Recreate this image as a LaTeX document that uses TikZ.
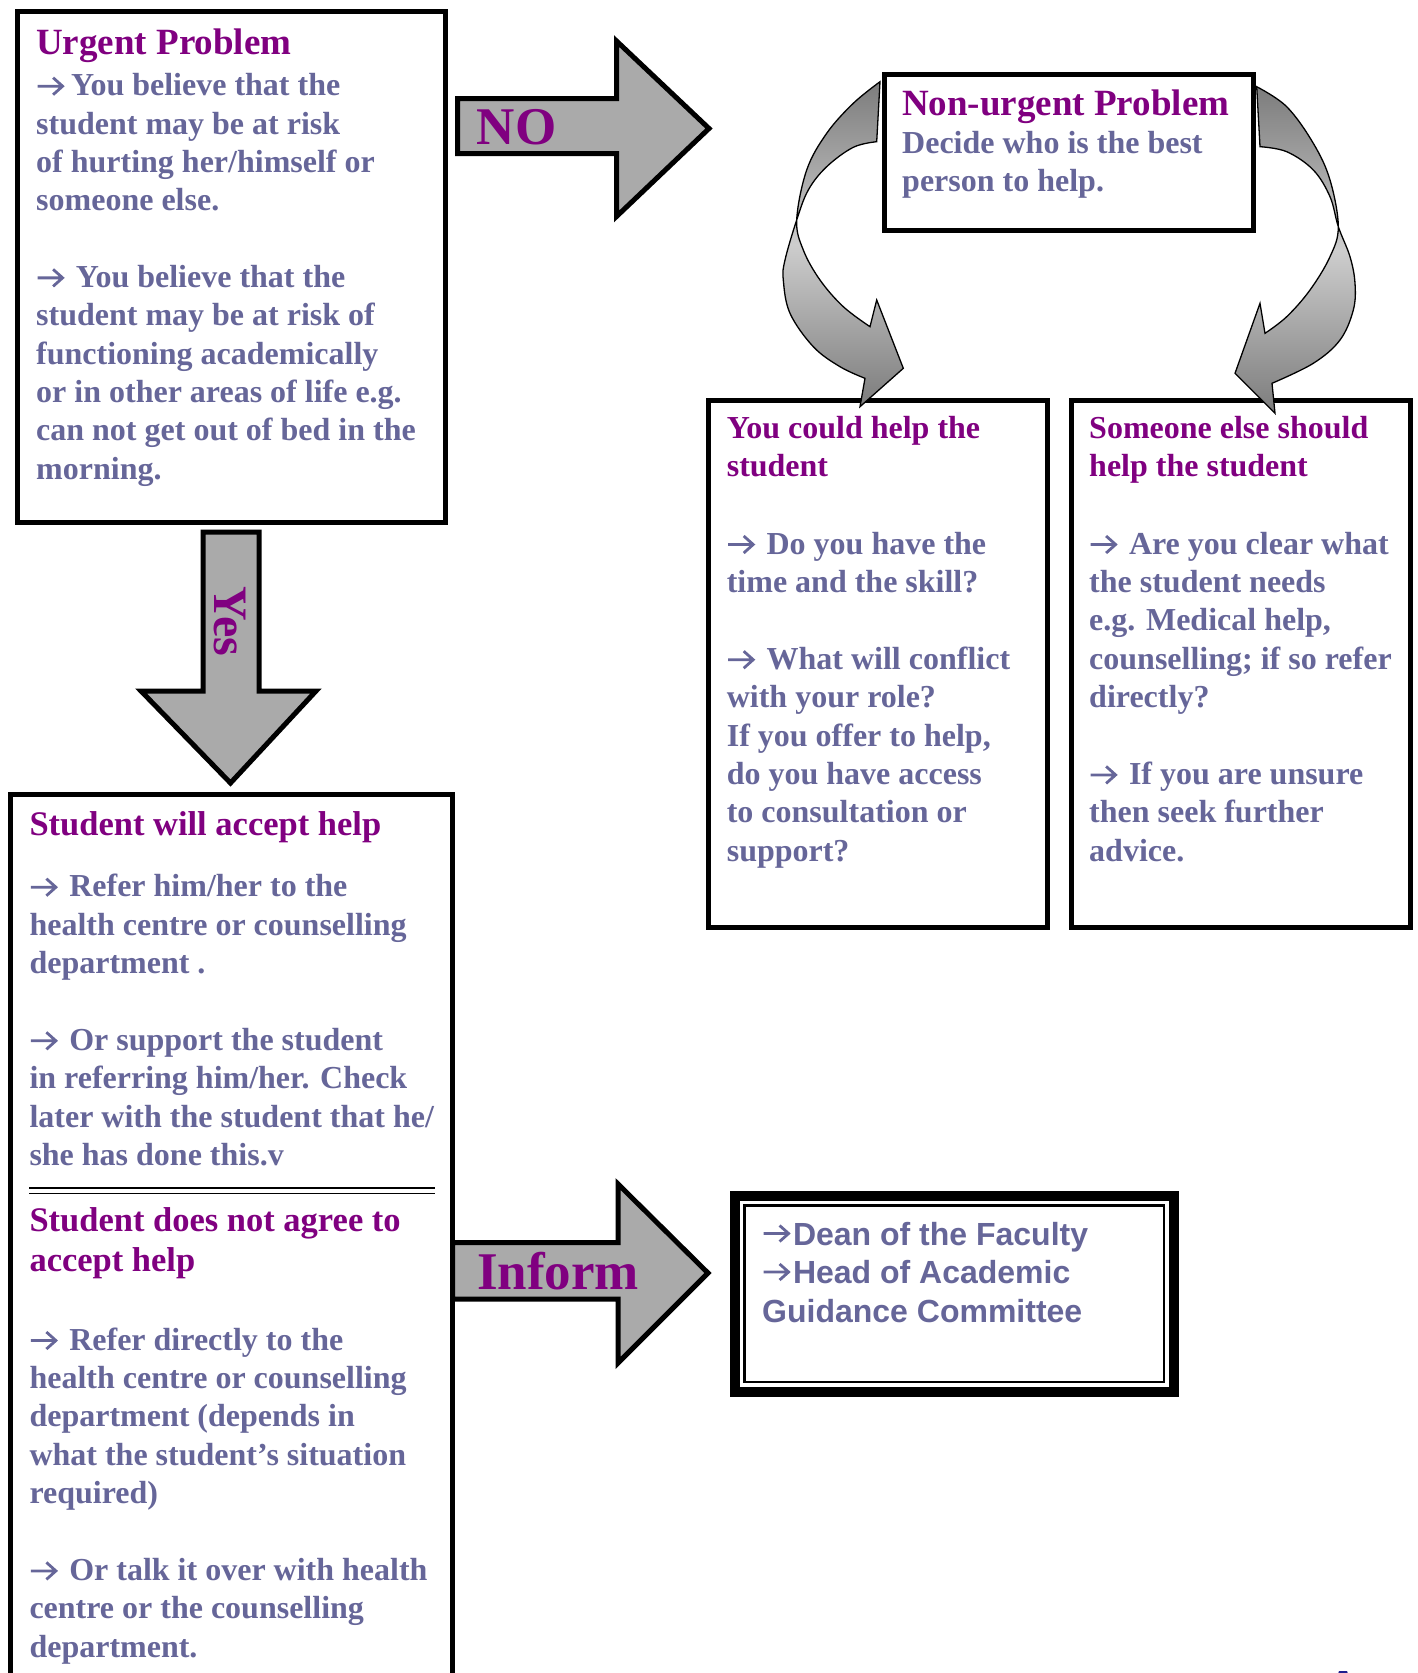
\documentclass[tikz,border=0pt]{standalone}
\usepackage{fontspec}
\setmainfont{Liberation Serif}
\newfontfamily\sansfam{Liberation Sans}

\definecolor{ttl}{HTML}{800080}
\definecolor{bdy}{HTML}{666699}
\definecolor{blockgray}{HTML}{AAAAAA}
\definecolor{ribdark}{HTML}{7C7C7C}
\definecolor{riblight}{HTML}{CDCDCD}
\definecolor{navymark}{HTML}{1F1F8F}

% stack of left-aligned lines; the box baseline is the first line's baseline
\newcommand\textrows[2]{\vtop{\baselineskip=#1\lineskiplimit=-100pt\lineskip=0pt\halign{##\hfil\cr#2\crcr}}}
% line arrow with an open head, used as a bullet
\newcommand\arr{\tikz[baseline=0pt, x=1pt, y=1pt]
  \draw[bdy, line width=2.8pt, line join=miter, line cap=butt]
    (1,9.5) -- (26,9.5) (16.5,1) -- (26,9.5) -- (16.5,18);}
\newcommand\arrsp{\arr\hspace{12pt}}
\newcommand\sarr{\tikz[baseline=0pt, x=1pt, y=1pt]
  \draw[bdy, line width=2.8pt, line join=miter, line cap=butt]
    (0.5,11.5) -- (25.5,11.5) (16.5,3.5) -- (25.5,11.5) -- (16.5,19.5);}

\tikzset{
  frame/.style={draw=black, line width=5pt, rectangle, inner sep=0pt, line join=miter},
  blockarrow/.style={draw=black, line width=5pt, fill=blockgray, line join=miter, miter limit=10},
  ribbon/.style={draw=black, line width=1.3pt, top color=ribdark, bottom color=ribdark, middle color=riblight, line join=miter},
  ttltext/.style={anchor=base west, inner sep=0pt, text=ttl, font=\bfseries\fontsize{37}{40}\selectfont},
  subttl/.style={anchor=base west, inner sep=0pt, text=ttl, font=\bfseries\fontsize{32}{38.4}\selectfont},
  lowttl/.style={anchor=base west, inner sep=0pt, text=ttl, font=\bfseries\fontsize{34.5}{40.5}\selectfont},
  bodytext/.style={anchor=base west, inner sep=0pt, text=bdy, font=\bfseries\fontsize{32}{38.4}\selectfont},
  sanstext/.style={anchor=base west, inner sep=0pt, text=bdy, font=\sansfam\bfseries\fontsize{32}{38.5}\selectfont},
  arrowlabel/.style={inner sep=0pt, text=ttl, font=\bfseries\fontsize{53}{56}\selectfont},
}

\begin{document}
\begin{tikzpicture}[x=1pt, y=-1pt]
\useasboundingbox (0,0) rectangle (1418,1673);
\clip (0,0) rectangle (1418,1673);
\fill[white] (0,0) rectangle (1418,1673);

% ---- block arrows ----
\draw[blockarrow] (457.5,98.5) -- (616.5,98.5) -- (616.5,41) -- (709,128.5)
  -- (616.5,216.5) -- (616.5,153.5) -- (457.5,153.5) -- cycle;
\draw[blockarrow] (203,532) -- (259,532) -- (259,691) -- (316,691)
  -- (230.5,783) -- (141,691) -- (203,691) -- cycle;
\draw[blockarrow] (452.5,1242.5) -- (618,1242.5) -- (618,1184) -- (708,1273)
  -- (618,1363) -- (618,1299) -- (452.5,1299) -- cycle;

% ---- boxes ----
\node[frame, minimum width=428pt, minimum height=511.5pt] (urgent) at (231.5,266.75) {};
\node[frame, minimum width=369.5pt, minimum height=156pt] (nonurgent) at (1068.75,152) {};
\node[frame, minimum width=338.5pt, minimum height=527.5pt] (couldhelp) at (877.75,663.75) {};
\node[frame, minimum width=338.5pt, minimum height=527.5pt] (someoneelse) at (1240.75,663.75) {};
\node[frame, minimum width=442pt, minimum height=960pt] (acceptbox) at (231.5,1274.5) {};
\node[frame, line width=10pt, minimum width=438.7pt, minimum height=196pt] (inform) at (954.4,1294.2) {};
\node[frame, line width=2.5pt, minimum width=419.3pt, minimum height=176.7pt] (informin) at (954.35,1293.85) {};

% double rule between the two halves of the lower left box
\coordinate (rulel) at (29,1188);
\coordinate (ruler) at (435,1188);
\draw[line width=2.5pt] (rulel) -- (ruler);
\draw[line width=1.5pt] ([yshift=-5.5pt]rulel) -- ([yshift=-5.5pt]ruler);

% ---- curved ribbon arrows ----
\draw[ribbon] (880,81.7)
  -- plot[smooth, tension=0.6] coordinates {(880,81.7) (853.3,103.3) (826.7,133.3) (806.7,170) (796.7,220) (803.3,250) (820,280) (843.3,306.7) (870,326.7)}
  -- (876.7,300) -- (903.3,368.3) -- (860,406.7) -- (865,378.3)
  -- plot[smooth, tension=0.6] coordinates {(865,378.3) (840,366.7) (813.3,346.7) (790,313.3) (783.3,280) (785,260) (796.7,220) (808.3,190) (826.7,166.7) (853.3,147.3) (876.7,141.7)}
  -- cycle;
\draw[ribbon] (1256.7,86.7)
  -- plot[smooth, tension=0.6] coordinates {(1256.7,86.7) (1286.7,106.7) (1313.3,143.3) (1330,180) (1338.3,226.7) (1330,256.7) (1310,290) (1286.7,316.7) (1265,333.3)}
  -- (1260,303.3) -- (1235,373.3) -- (1275,413.3) -- (1272,383.3)
  -- plot[smooth, tension=0.6] coordinates {(1272,383.3) (1313.3,363.3) (1340,340) (1353.3,310) (1355,283.3) (1350,256.7) (1338.3,226.7) (1330,196.7) (1313.3,170) (1286.7,151.7) (1260,146.7)}
  -- cycle;

% ---- arrow labels ----
\node[arrowlabel, anchor=base west] (nolabel) at (476.7,144) {NO};
\node[arrowlabel, anchor=base west, rotate=-90, font=\bfseries\fontsize{48}{52}\selectfont] (yeslabel) at (214,586.7) {Yes};
\node[arrowlabel, anchor=base west] (informlabel) at (477,1289) {Inform};

% ---- texts ----
\node[ttltext] (urgentttl) at (36,54) {Urgent Problem};
\node[bodytext] (urgentbody) at (36,95.7) {\textrows{38.33pt}{%
\arr\hspace{7pt}You believe that the\cr
student may be at risk\cr
of hurting her/himself or\cr
someone else.\cr
\cr
\arrsp You believe that the\cr
student may be at risk of\cr
functioning academically\cr
or in other areas of life e.g.\cr
can not get out of bed in the\cr
morning.}};

\node[ttltext] (nonurgentttl) at (902,115) {Non-urgent Problem};
\node[bodytext] (nonurgentbody) at (902,153) {\textrows{38.5pt}{%
Decide who is the best\cr
person to help.}};

\node[subttl] (couldttl) at (726.6,438.5) {\textrows{38.4pt}{%
You could help the\cr
student}};
\node[bodytext] (couldbody) at (726.6,554) {\textrows{38.4pt}{%
\arrsp Do you have the\cr
time and the skill?\cr
\cr
\arrsp What will conflict\cr
with your role?\cr
If you offer to help,\cr
do you have access\cr
to consultation or\cr
support?}};

\node[subttl] (elsettl) at (1089,438.5) {\textrows{38.4pt}{%
Someone else should\cr
help the student}};
\node[bodytext] (elsebody) at (1089,554) {\textrows{38.4pt}{%
\arrsp Are you clear what\cr
the student needs\cr
e.g. Medical help,\cr
counselling; if so refer\cr
directly?\cr
\cr
\arrsp If you are unsure\cr
then seek further\cr
advice.}};

\node[lowttl] (acceptttl) at (29.3,835) {Student will accept help};
\node[bodytext] (acceptbody) at (29.3,896.7) {\textrows{38.4pt}{%
\arrsp Refer him/her to the\cr
health centre or counselling\cr
department .\cr
\cr
\arrsp Or support the student\cr
in referring him/her. Check\cr
later with the student that he/\cr
she has done this.v}};

\node[lowttl] (refusettl) at (29.3,1231) {\textrows{40.5pt}{%
Student does not agree to\cr
accept help}};
\node[bodytext] (refusebody) at (29.3,1350) {\textrows{38.4pt}{%
\arrsp Refer directly to the\cr
health centre or counselling\cr
department (depends in\cr
what the student’s situation\cr
required)\cr
\cr
\arrsp Or talk it over with health\cr
centre or the counselling\cr
department.}};

\node[sanstext] (informtext) at (762,1245) {\textrows{38.5pt}{%
\sarr\hspace{3pt}Dean of the Faculty\cr
\sarr\hspace{3pt}Head of Academic\cr
Guidance Committee}};

% small mark at the lower edge
\fill[navymark] (1339,1671) -- (1347,1671) -- (1348,1674) -- (1338,1674) -- cycle;
\end{tikzpicture}
\end{document}
